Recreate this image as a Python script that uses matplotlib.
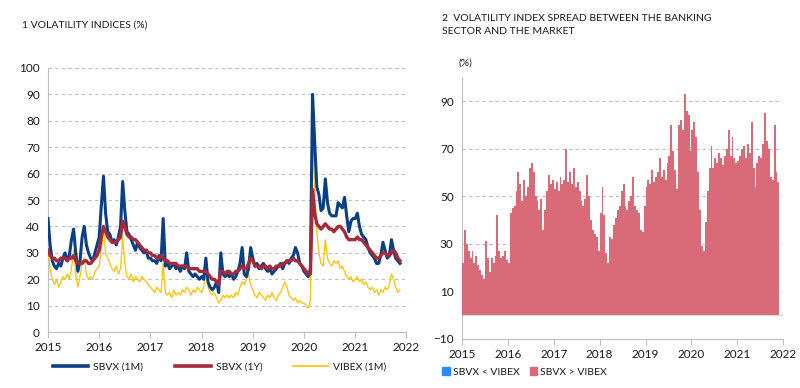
import numpy as np
import matplotlib
matplotlib.use("Agg")
import matplotlib.pyplot as plt
from matplotlib.lines import Line2D
from matplotlib.patches import Patch

plt.rcParams['font.family'] = ['Lato', 'DejaVu Sans']
plt.rcParams['text.color'] = '#1A1A1A'
plt.rcParams['xtick.labelcolor'] = '#1A1A1A'
plt.rcParams['ytick.labelcolor'] = '#1A1A1A'

# semi-monthly observations starting 2015-01
sbvx_1m = [
    43, 33, 27, 25, 24, 26, 25, 28, 30, 27, 29, 35, 39, 30, 23, 27, 36, 40, 33, 30, 28, 27, 30, 33,
    36, 48, 59, 45, 38, 37, 34, 35, 33, 36, 40, 57, 46, 38, 37, 35, 33, 31, 34, 32, 31, 30, 31, 28,
    28, 27, 27, 26, 29, 27, 43, 25, 26, 24, 25, 26, 24, 25, 23, 25, 24, 30, 23, 22, 21, 22, 21, 20,
    21, 20, 28, 19, 17, 16, 17, 19, 15, 30, 22, 21, 22, 21, 22, 20, 21, 23, 26, 32, 22, 21, 24, 32,
    28, 25, 26, 24, 25, 26, 24, 23, 24, 22, 23, 24, 25, 26, 24, 26, 27, 26, 28, 29, 32, 30, 26, 25,
    23, 22, 21, 24, 90, 72, 55, 52, 46, 47, 58, 49, 45, 44, 44, 44, 49, 48, 47, 51, 44, 38, 42, 43,
    43, 45, 40, 37, 36, 35, 32, 30, 29, 28, 26, 26, 29, 34, 31, 28, 29, 35, 31, 28, 27, 26,
]
sbvx_1y = [
    31, 29, 28, 28, 27, 27, 28, 28, 28, 27, 28, 28, 29, 27, 26, 26, 26, 27, 27, 26, 26, 27, 28, 29,
    31, 36, 40, 38, 36, 35, 34, 34, 34, 35, 36, 42, 40, 37, 36, 36, 35, 35, 34, 33, 32, 31, 31, 30,
    30, 29, 29, 28, 28, 29, 28, 27, 27, 26, 26, 26, 26, 25, 25, 25, 25, 25, 24, 24, 24, 24, 24, 23,
    23, 23, 23, 22, 21, 20, 20, 19, 18, 23, 23, 22, 23, 23, 22, 22, 23, 23, 24, 25, 24, 24, 26, 28,
    27, 25, 25, 25, 24, 25, 25, 24, 25, 24, 24, 25, 25, 25, 26, 26, 27, 27, 27, 28, 27, 27, 26, 25,
    24, 23, 22, 22, 54, 45, 41, 40, 39, 40, 41, 40, 39, 39, 38, 39, 40, 40, 39, 38, 36, 35, 35, 35,
    35, 36, 35, 35, 34, 33, 32, 31, 30, 29, 28, 28, 29, 30, 30, 29, 29, 30, 31, 30, 28, 27,
]
vibex_1m = [
    31, 24, 20, 18, 20, 17, 19, 21, 20, 22, 20, 24, 31, 22, 17, 21, 26, 28, 22, 20, 21, 20, 23, 24,
    25, 31, 39, 30, 28, 26, 24, 23, 25, 22, 24, 36, 26, 21, 20, 22, 19, 21, 20, 19, 21, 20, 19, 18,
    17, 16, 15, 17, 16, 15, 26, 15, 14, 15, 13, 16, 14, 15, 14, 16, 15, 17, 16, 14, 16, 15, 17, 16,
    15, 17, 24, 17, 15, 14, 15, 13, 11, 12, 14, 13, 14, 13, 14, 13, 15, 14, 17, 19, 18, 20, 22, 18,
    16, 14, 13, 15, 14, 13, 12, 14, 13, 15, 13, 12, 14, 15, 17, 19, 17, 14, 13, 12, 13, 11, 12, 11,
    11, 10, 9, 12, 78, 55, 38, 30, 26, 25, 35, 28, 26, 25, 27, 26, 27, 24, 25, 23, 21, 20, 21, 19,
    20, 21, 19, 20, 18, 19, 17, 16, 17, 15, 16, 14, 16, 15, 17, 16, 18, 22, 20, 17, 15, 16,
]
spread = [
    22, 36, 30, 27, 24, 27, 22, 25, 21, 19, 17, 15, 31, 24, 18, 24, 22, 25, 42, 27, 24, 25, 27, 23,
    22, 43, 45, 46, 52, 60, 55, 48, 57, 50, 54, 62, 64, 60, 50, 48, 44, 49, 36, 44, 52, 59, 55, 57,
    53, 56, 52, 58, 55, 57, 70, 56, 60, 55, 62, 54, 56, 52, 48, 46, 49, 59, 50, 40, 36, 34, 33, 27,
    43, 54, 42, 26, 22, 33, 32, 38, 41, 44, 46, 52, 55, 46, 44, 48, 50, 58, 46, 44, 43, 36, 35, 46,
    54, 57, 55, 61, 56, 58, 60, 66, 58, 61, 57, 64, 67, 80, 69, 61, 53, 80, 82, 78, 93, 86, 84, 69,
    78, 81, 75, 60, 44, 29, 27, 39, 52, 62, 71, 62, 66, 64, 68, 66, 63, 67, 70, 78, 67, 75, 66, 64,
    65, 67, 70, 71, 66, 72, 68, 81, 62, 54, 64, 67, 66, 72, 85, 73, 70, 58, 57, 80, 60, 56,
]
years = [2015, 2016, 2017, 2018, 2019, 2020, 2021, 2022]
left_yticks = list(range(0, 101, 10))
right_yticks = [-10, 10, 30, 50, 70, 90]

t = 2015 + np.arange(len(sbvx_1m)) / 24.0

fig = plt.figure(figsize=(8, 3.88), dpi=100)
grid_kw = dict(color='#BFBFBF', linestyle=(0, (3, 3)), linewidth=0.8)
spine_c = '#BFBFBF'
tick_fs = 8.5
txt_fs = 7.5

# ---------- left panel ----------
ax1 = fig.add_axes([0.06, 0.144, 0.448, 0.681])
ax1.plot(t, vibex_1m, color='#FFC000', lw=0.9, zorder=3)
ax1.plot(t, sbvx_1m, color='#0B3F83', lw=2.2, zorder=4)
ax1.plot(t, sbvx_1y, color='#A52A3A', lw=2.4, zorder=5)
ax1.set_xlim(2015, 2022)
ax1.set_ylim(0, 100)
ax1.set_yticks(left_yticks)
ax1.set_xticks(years)
ax1.yaxis.grid(True, **grid_kw)
ax1.set_axisbelow(True)
for s in ['top', 'right']:
    ax1.spines[s].set_visible(False)
for s in ['left', 'bottom']:
    ax1.spines[s].set_color(spine_c)
ax1.tick_params(axis='y', length=0, labelsize=tick_fs, pad=6)
ax1.tick_params(axis='x', length=4, color=spine_c, labelsize=tick_fs, pad=3)
fig.text(0.027, 0.935, '1 VOLATILITY INDICES (%)', fontsize=txt_fs, va='center')

leg_items = [('SBVX (1M)', '#0B3F83', 2.6, 0.066),
             ('SBVX (1Y)', '#A52A3A', 2.6, 0.219),
             ('VIBEX (1M)', '#FFC000', 1.2, 0.366)]
for lab, col, lw, xpos in leg_items:
    fig.legend([Line2D([], [], color=col, lw=lw)], [lab], loc='center left',
               bbox_to_anchor=(xpos, 0.054), frameon=False, fontsize=txt_fs,
               handlelength=3.4, handletextpad=0.5, borderpad=0, borderaxespad=0)

# ---------- right panel ----------
ax2 = fig.add_axes([0.5775, 0.126, 0.4015, 0.675])
ax2.bar(t, spread, width=1/24, align='edge', color='#D96B78', edgecolor='none', zorder=3)
ax2.axhline(0, color='#D9D9D9', lw=0.8, zorder=2)
ax2.set_xlim(2015, 2022)
ax2.set_ylim(-10.05, 100)
ax2.set_yticks(right_yticks)
ax2.set_xticks(years)
ax2.yaxis.grid(True, **grid_kw)
ax2.set_axisbelow(True)
for s in ['top', 'right']:
    ax2.spines[s].set_visible(False)
for s in ['left', 'bottom']:
    ax2.spines[s].set_color(spine_c)
ax2.tick_params(axis='y', length=0, labelsize=tick_fs, pad=6)
ax2.tick_params(axis='x', length=4, color=spine_c, labelsize=tick_fs, pad=3)
fig.text(0.553, 0.935, '2  VOLATILITY INDEX SPREAD BETWEEN THE BANKING\nSECTOR AND THE MARKET',
         fontsize=txt_fs, va='center', linespacing=1.5)
fig.text(0.573, 0.838, '(%)', fontsize=txt_fs, va='center')

h2 = [Patch(color='#2E8BFF'), Patch(color='#D96B78')]
fig.legend(h2, ['SBVX < VIBEX', 'SBVX > VIBEX'], loc='center left',
           bbox_to_anchor=(0.553, 0.041), ncol=2, frameon=False, fontsize=txt_fs,
           handlelength=0.7, handleheight=0.7, handletextpad=0.3, columnspacing=1.0,
           borderpad=0, borderaxespad=0)

fig.savefig('out.png', dpi=100)
